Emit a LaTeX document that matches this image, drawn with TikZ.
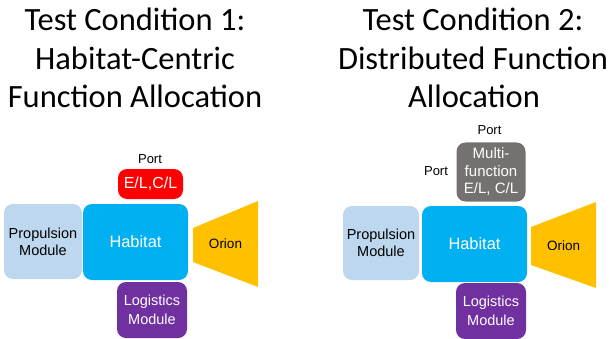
\documentclass[tikz,border=0pt]{standalone}
\usepackage{fontspec}
\setmainfont{Liberation Sans}
\newfontfamily\titlefont{Carlito}
\definecolor{propc}{HTML}{BDD7EE}
\definecolor{habc}{HTML}{00B0F0}
\definecolor{redc}{HTML}{FF0000}
\definecolor{orionc}{HTML}{FFC000}
\definecolor{logc}{HTML}{7030A0}
\definecolor{grayc}{HTML}{767171}
\begin{document}
\begin{tikzpicture}[x=1pt,y=-1pt,
  modbox/.style={rounded corners=9pt, inner sep=0pt, align=center, font=\fontsize{14.5}{17}\selectfont},
  ttl/.style={anchor=base, font=\titlefont\fontsize{32.5}{39}\selectfont, inner sep=0pt},
  lbl/.style={anchor=base, font=\fontsize{13}{15}\selectfont, inner sep=0pt}]
\useasboundingbox (0,0) rectangle (609,339);
% titles
\node[ttl] (t1a) at (135,31) {Test Condition 1:};
\node[ttl] (t1b) at (135,69.5) {Habitat-Centric};
\node[ttl] (t1c) at (135,108) {Function Allocation};
\node[ttl] (t2a) at (473,31) {Test Condition 2:};
\node[ttl] (t2b) at (473,69.5) {Distributed Function};
\node[ttl] (t2c) at (474,108) {Allocation};
% left diagram
\node[lbl] (p1) at (150,163) {Port};
\node[modbox, fill=redc, text=white, minimum width=65pt, minimum height=30pt, font=\fontsize{16}{18}\selectfont] (el1) at (150.5,184) {E/L,C/L};
\node[modbox, fill=propc, minimum width=78pt, minimum height=75pt] (pm1) at (43,241.5) {Propulsion\\Module};
\node[modbox, fill=habc, text=white, minimum width=105pt, minimum height=76pt, font=\fontsize{16.4}{18}\selectfont] (h1) at (135.5,242) {Habitat};
\node[modbox, fill=logc, text=white, minimum width=70pt, minimum height=56pt, font=\fontsize{14.5}{18.5}\selectfont] (l1) at (152,310) {Logistics\\Module};
\fill[orionc] (193,228) -- (258,201) -- (258,287) -- (193,262) -- cycle;
\node[font=\fontsize{13.5}{15}\selectfont, inner sep=0pt] (o1) at (225.5,244) {Orion};
% right diagram
\node[lbl] (p2a) at (489.5,135) {Port};
\node[lbl] (p2b) at (436,175) {Port};
\node[modbox, fill=grayc, text=white, minimum width=69pt, minimum height=59pt, font=\fontsize{15}{17.5}\selectfont] (mf) at (491,172) {Multi-\\function\\E/L, C/L};
\node[modbox, fill=propc, minimum width=76pt, minimum height=74pt] (pm2) at (381,243) {Propulsion\\Module};
\node[modbox, fill=habc, text=white, minimum width=105pt, minimum height=76pt, font=\fontsize{16.4}{18}\selectfont] (h2) at (474.5,244) {Habitat};
\node[modbox, fill=logc, text=white, minimum width=70pt, minimum height=56pt, font=\fontsize{14.5}{18.5}\selectfont] (l2) at (491,311) {Logistics\\Module};
\fill[orionc] (531,227) -- (596,202) -- (596,288) -- (531,265) -- cycle;
\node[font=\fontsize{13.5}{15}\selectfont, inner sep=0pt] (o2) at (563.5,246) {Orion};
\end{tikzpicture}
\end{document}
